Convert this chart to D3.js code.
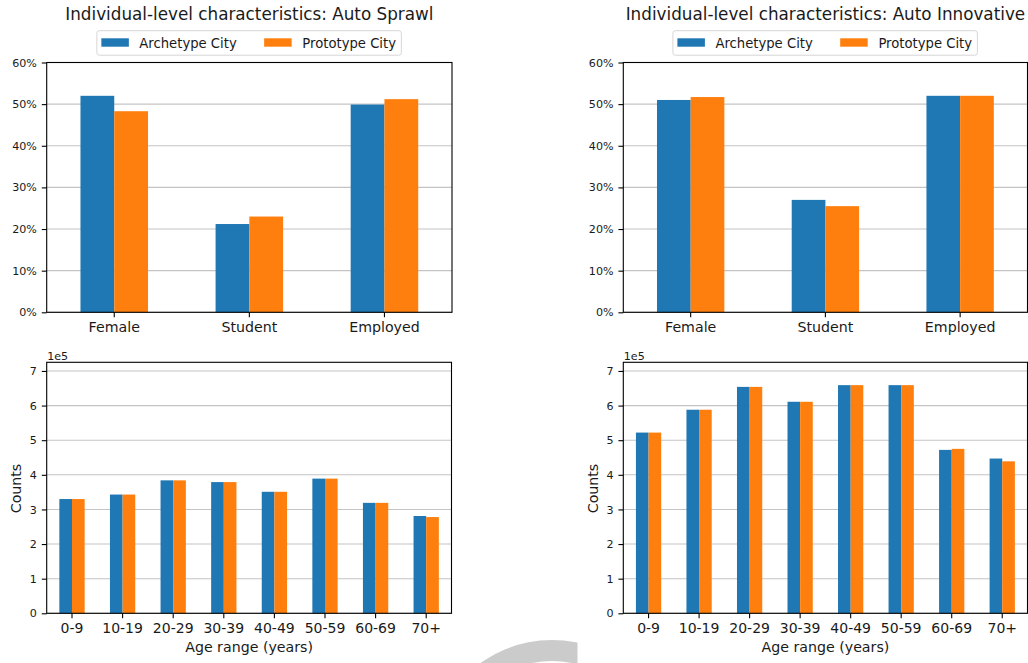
<!DOCTYPE html>
<html><head><meta charset="utf-8">
<script src="https://cdn.jsdelivr.net/npm/d3@7"></script>
<style>
body{margin:0;background:#fff}
svg{display:block}
text{font-family:"DejaVu Sans",sans-serif;fill:#1a1a1a}
</style>
</head><body>
<svg id="c" width="1028" height="663"></svg>
<script>
// ---------------- data ----------------
const seriesNames = ["Archetype City", "Prototype City"];
const seriesColors = ["#1f77b4", "#ff7f0e"];
const titles = ["Individual-level characteristics: Auto Sprawl", "Individual-level characteristics: Auto Innovative"];

const indCategories = ["Female", "Student", "Employed"];
const sprawlArchetypeInd = [0.520, 0.212, 0.499];
const sprawlPrototypeInd = [0.483, 0.230, 0.512];
const innovArchetypeInd = [0.510, 0.270, 0.520];
const innovPrototypeInd = [0.517, 0.255, 0.520];

const ageCategories = ["0-9", "10-19", "20-29", "30-39", "40-49", "50-59", "60-69", "70+"];
const sprawlArchetypeAge = [330000, 343000, 384000, 379000, 351000, 389000, 319000, 281000];
const sprawlPrototypeAge = [330000, 343000, 384000, 379000, 351000, 389000, 319000, 278000];
const innovArchetypeAge = [522000, 588000, 654000, 611000, 659000, 659000, 472000, 447000];
const innovPrototypeAge = [522000, 588000, 654000, 611000, 659000, 659000, 475000, 439000];

const pctTicks = [0, 0.1, 0.2, 0.3, 0.4, 0.5, 0.6];
const countTicks = [0, 100000, 200000, 300000, 400000, 500000, 600000, 700000];
const countMax = 725000;

// ---------------- drawing ----------------
const svg = d3.select("#c");

// background artifact (grey ring), clipped at the right-hand figure's edge
const defs = svg.append("defs");
defs.append("clipPath").attr("id", "ringclip")
  .append("rect").attr("x", 0).attr("y", 0).attr("width", 577.5).attr("height", 663);
svg.append("g").attr("clip-path", "url(#ringclip)")
  .append("path")
  .attr("transform", "translate(552,762)")
  .attr("d", d3.arc()({innerRadius: 101, outerRadius: 122, startAngle: -Math.PI / 2, endAngle: Math.PI / 2}))
  .attr("fill", "#cbcbcb");

const TICK = 4.9, PAD = 4.9;

function panel(o) {
  const g = svg.append("g");
  const x = d3.scaleBand().domain(o.cats).range([o.x0, o.x1]).paddingInner(0.5).paddingOuter(0.25);
  const xs = d3.scaleBand().domain(seriesNames).range([0, x.bandwidth()]);
  const y = d3.scaleLinear().domain(o.domain).range([o.yb, o.yt]);

  // grid
  g.append("g").selectAll("line").data(o.ticks).join("line")
    .attr("x1", o.x0).attr("x2", o.x1)
    .attr("y1", d => y(d)).attr("y2", d => y(d))
    .attr("stroke", "#c4c4c4").attr("stroke-width", 1.1);

  // bars
  o.values.forEach((vals, si) => {
    g.append("g").selectAll("rect").data(vals).join("rect")
      .attr("x", (d, i) => x(o.cats[i]) + xs(seriesNames[si]))
      .attr("width", xs.bandwidth())
      .attr("y", d => y(d))
      .attr("height", d => y(0) - y(d))
      .attr("fill", seriesColors[si]);
  });

  // frame
  g.append("rect").attr("x", o.x0).attr("y", o.yt).attr("width", o.x1 - o.x0).attr("height", o.yb - o.yt)
    .attr("fill", "none").attr("stroke", "#000").attr("stroke-width", 1.1);

  // y axis
  const ya = d3.axisLeft(y).tickValues(o.ticks).tickFormat(o.fmt).tickSize(TICK).tickPadding(PAD);
  const yg = g.append("g").attr("transform", `translate(${o.x0},0)`).call(ya);
  yg.select(".domain").remove();
  yg.selectAll("line").attr("stroke", "#000").attr("stroke-width", 1.1);
  yg.selectAll("text").attr("font-size", "11.1px").attr("font-family", "DejaVu Sans").attr("fill", "#1a1a1a");

  // x axis
  const xa = d3.axisBottom(x).tickSize(TICK).tickPadding(PAD);
  const xg = g.append("g").attr("transform", `translate(0,${o.yb})`).call(xa);
  xg.select(".domain").remove();
  xg.selectAll("line").attr("stroke", "#000").attr("stroke-width", 1.1);
  xg.selectAll("text").attr("font-size", o.xFont).attr("font-family", "DejaVu Sans").attr("fill", "#1a1a1a");

  const cx = (o.x0 + o.x1) / 2;
  if (o.title) {
    g.append("text").attr("x", cx).attr("y", 20).attr("text-anchor", "middle")
      .attr("font-size", "16.8px").text(o.title);
  }
  if (o.legend) {
    const lx = cx - 152.5, ly = 30.7;
    g.append("rect").attr("x", lx).attr("y", ly).attr("width", 304.5).attr("height", 24.5)
      .attr("rx", 2.5).attr("fill", "#fff").attr("stroke", "#d6d6d6").attr("stroke-width", 1);
    const offs = [[4.5, 42.5], [167.3, 205.5]];
    seriesNames.forEach((s, i) => {
      g.append("rect").attr("x", lx + offs[i][0]).attr("y", 38.3).attr("width", 27.5).attr("height", 8.4)
        .attr("fill", seriesColors[i]);
      g.append("text").attr("x", lx + offs[i][1]).attr("y", 47.6).attr("font-size", "13.2px").text(s);
    });
  }
  if (o.xlabel) {
    g.append("text").attr("x", cx).attr("y", 652).attr("text-anchor", "middle")
      .attr("font-size", "14.2px").text(o.xlabel);
  }
  if (o.ylabel) {
    g.append("text").attr("transform", `translate(${o.x0 - 25.5},488.5) rotate(-90)`)
      .attr("text-anchor", "middle").attr("font-size", "14.2px").text(o.ylabel);
  }
  if (o.offset) {
    g.append("text").attr("x", o.x0 + 0.5).attr("y", 359.5).attr("font-size", "11.1px").text(o.offset);
  }
}

const pctFmt = d3.format(".0%");
const cntFmt = d => d3.format("d")(d / 100000);

panel({x0: 46.7, x1: 452, yt: 62.5, yb: 312.3, cats: indCategories, domain: [0, 0.6], ticks: pctTicks, fmt: pctFmt,
  values: [sprawlArchetypeInd, sprawlPrototypeInd], title: titles[0], legend: true, xFont: "14.2px"});
panel({x0: 623.3, x1: 1027.5, yt: 62.5, yb: 312.3, cats: indCategories, domain: [0, 0.6], ticks: pctTicks, fmt: pctFmt,
  values: [innovArchetypeInd, innovPrototypeInd], title: titles[1], legend: true, xFont: "14.2px"});
panel({x0: 46.7, x1: 451.5, yt: 362.3, yb: 613.3, cats: ageCategories, domain: [0, countMax], ticks: countTicks, fmt: cntFmt,
  values: [sprawlArchetypeAge, sprawlPrototypeAge], xlabel: "Age range (years)", ylabel: "Counts", offset: "1e5", xFont: "14px"});
panel({x0: 623.3, x1: 1027.5, yt: 362.3, yb: 613.3, cats: ageCategories, domain: [0, countMax], ticks: countTicks, fmt: cntFmt,
  values: [innovArchetypeAge, innovPrototypeAge], xlabel: "Age range (years)", ylabel: "Counts", offset: "1e5", xFont: "14px"});
</script>
</body></html>
